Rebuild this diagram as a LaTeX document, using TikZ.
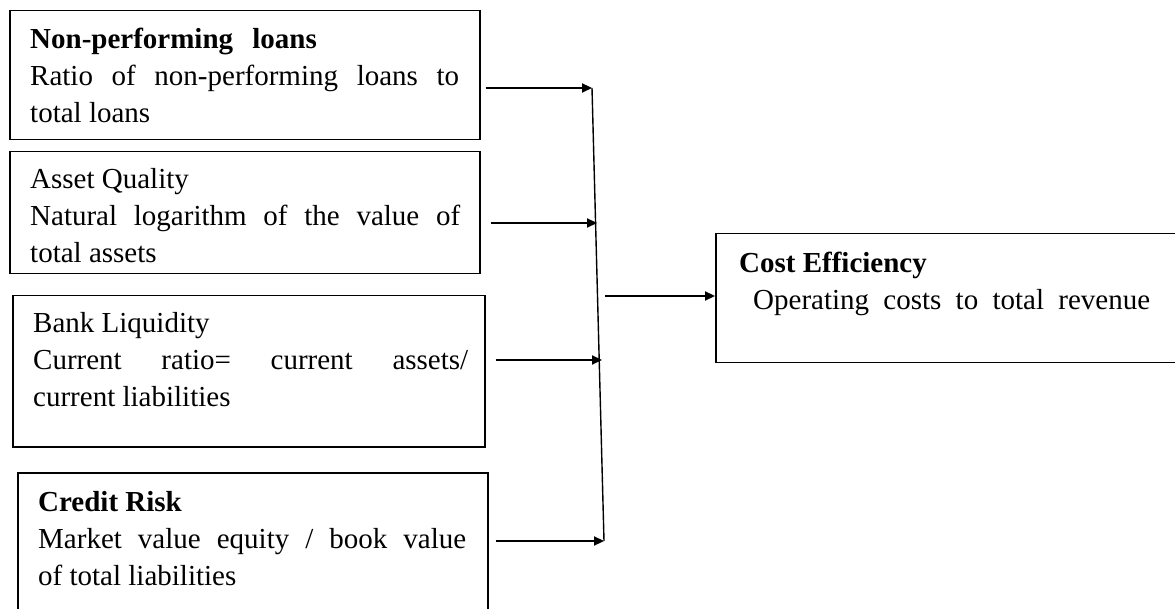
\documentclass[tikz,border=0pt]{standalone}
\usepackage{fontspec}
\setmainfont{Liberation Serif}
\usetikzlibrary{arrows.meta}

\tikzset{
  frame/.style={draw, line width=1.5pt, anchor=north west, inner sep=0pt},
  desc/.style={anchor=base west, inner sep=0pt, align=justify},
  feed/.style={line width=2.2pt, -{Triangle[length=10pt,width=9pt]}},
}

\begin{document}
\begin{tikzpicture}[x=1pt, y=-1pt, font=\fontsize{29}{37}\selectfont]
\useasboundingbox (0,0) rectangle (1175,609);
\clip (0,0) rectangle (1175,609);

% the four determinants
\node[frame, minimum width=470pt, minimum height=129pt] (npl) at (9,10) {};
\node[frame, minimum width=470pt, minimum height=122pt] (quality) at (9,151) {};
\node[frame, minimum width=472pt, minimum height=151pt] (liquidity) at (12,295) {};
\node[frame, minimum width=470pt, minimum height=170pt] (credit) at (17,472) {};

\node[desc, text width=429pt] (npltxt) at (30,49)
  {\textbf{Non-performing\hspace{12pt} loans}\\Ratio of non-performing loans to\linebreak total loans};
\node[desc, text width=430pt] (qualitytxt) at (30,189)
  {Asset Quality\\Natural logarithm of the value of\linebreak total assets};
\node[desc, text width=435pt] (liquiditytxt) at (33,333)
  {Bank Liquidity\\Current ratio= current assets/\linebreak current liabilities};
\node[desc, text width=428pt] (credittxt) at (38,511)
  {\textbf{Credit Risk}\\Market value equity / book value\linebreak of total liabilities};

% the outcome
\node[frame, minimum width=485pt, minimum height=129pt] (cost) at (715,233) {};
\node[desc, text width=420pt] (costtxt) at (739,273)
  {\textbf{Cost Efficiency}\\\hspace*{14pt}\makebox[397pt][s]{Operating costs to total revenue}};

% collector line and arrows
\coordinate (in1) at (592,88);
\coordinate (in2) at (597,223);
\coordinate (in3) at (602,360);
\coordinate (in4) at (604,541);
\coordinate (out) at (605,296);

\draw[line width=1.4pt] (in1) -- (in4);
\draw[feed] ([xshift=5pt]npl.east |- in1) -- (in1);
\draw[feed] ([xshift=10pt]quality.east |- in2) -- (in2);
\draw[feed] ([xshift=10pt]liquidity.east |- in3) -- (in3);
\draw[feed] ([xshift=7pt]credit.east |- in4) -- (in4);
\draw[feed] (out) -- (cost.west |- out);
\end{tikzpicture}
\end{document}
